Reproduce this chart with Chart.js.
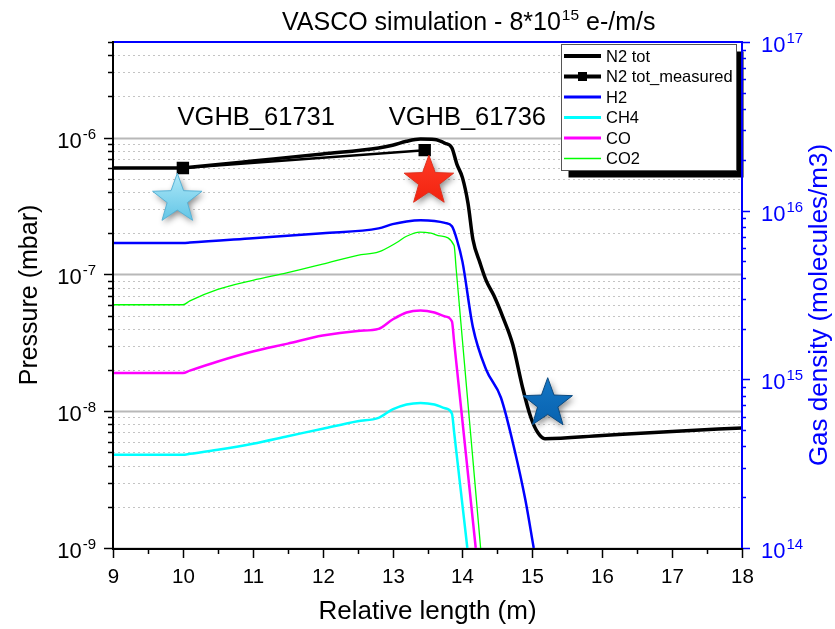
<!DOCTYPE html>
<html>
<head>
<meta charset="utf-8">
<script src="https://cdn.jsdelivr.net/npm/chart.js@4.4.0/dist/chart.umd.min.js"></script>
<style>
  html, body { margin: 0; padding: 0; background: #fff; }
  #wrap { width: 835px; height: 629px; }
</style>
</head>
<body>
<div id="wrap"><canvas id="c" width="835" height="629"></canvas></div>
<script>
const FONT = "'Liberation Sans', Arial, Helvetica, sans-serif";

// ---- series (position along the line in m, pressure in mbar) ----
const n2TotX = [9, 10, 10.1, 11, 12, 12.8, 13.0, 13.2, 13.4, 13.6, 13.75, 13.85, 13.92, 14.0, 14.08, 14.15, 14.25, 14.34, 14.45, 14.58, 14.72, 14.86, 14.98, 15.08, 15.18, 16, 17, 18];
const n2TotY = [6.0e-7, 6.0e-7, 6.07e-7, 6.75e-7, 7.6e-7, 8.4e-7, 8.8e-7, 9.4e-7, 9.75e-7, 9.7e-7, 9.1e-7, 8.4e-7, 6.4e-7, 5.1e-7, 3.3e-7, 1.8e-7, 1.22e-7, 9.0e-8, 7.0e-8, 4.85e-8, 3.07e-8, 1.49e-8, 8.95e-9, 6.95e-9, 6.3e-9, 6.65e-9, 7.1e-9, 7.55e-9];

const n2MeasX = [10, 13.46];
const n2MeasY = [6.0e-7, 8.1e-7];

const h2X = [9, 10, 10.1, 11, 12, 12.8, 13.0, 13.2, 13.4, 13.6, 13.75, 13.85, 13.92, 14.0, 14.15, 14.34, 14.55, 14.75, 14.9, 15.02];
const h2Y = [1.7e-7, 1.7e-7, 1.71e-7, 1.84e-7, 2.0e-7, 2.17e-7, 2.33e-7, 2.44e-7, 2.49e-7, 2.46e-7, 2.38e-7, 2.25e-7, 1.8e-7, 1.24e-7, 4.1e-8, 2.01e-8, 1.26e-8, 5.1e-9, 2.25e-9, 1.0e-9];

const ch4X = [9, 10, 10.1, 10.5, 11, 11.5, 12, 12.5, 12.8, 13.0, 13.2, 13.4, 13.6, 13.75, 13.85, 13.88, 14.07];
const ch4Y = [4.8e-9, 4.8e-9, 4.88e-9, 5.22e-9, 5.78e-9, 6.56e-9, 7.45e-9, 8.45e-9, 8.95e-9, 1.03e-8, 1.12e-8, 1.15e-8, 1.12e-8, 1.05e-8, 9.6e-9, 7.1e-9, 1.0e-9];

const coX = [9, 10, 10.1, 10.5, 11, 11.5, 12, 12.5, 12.8, 13.0, 13.2, 13.4, 13.6, 13.75, 13.85, 13.88, 14.19];
const coY = [1.9e-8, 1.9e-8, 1.98e-8, 2.31e-8, 2.73e-8, 3.12e-8, 3.57e-8, 3.86e-8, 4.0e-8, 4.68e-8, 5.27e-8, 5.45e-8, 5.27e-8, 4.93e-8, 4.53e-8, 3.25e-8, 1.0e-9];

const co2X = [9, 10, 10.1, 10.5, 11, 11.5, 12, 12.5, 12.8, 13.06, 13.2, 13.39, 13.55, 13.68, 13.88, 13.91, 14.26];
const co2Y = [6.0e-8, 6.0e-8, 6.4e-8, 7.76e-8, 9.04e-8, 1.03e-7, 1.19e-7, 1.38e-7, 1.46e-7, 1.71e-7, 1.9e-7, 2.04e-7, 2.0e-7, 1.91e-7, 1.63e-7, 1.1e-7, 1.0e-9];

// ---- axes ----
const xTicks = [9, 10, 11, 12, 13, 14, 15, 16, 17, 18];
const pressureDecades = [-9, -8, -7, -6];
const densityDecades = [14, 15, 16, 17];

// ---- gauge annotations ----
const gaugeNames = ['VGHB_61731', 'VGHB_61736'];
const gaugeNameX = [11.05, 14.07];
const gaugeNameY = [1.24e-6, 1.24e-6];

const starX = [9.92, 13.52, 15.22];
const starY = [3.54e-7, 4.8e-7, 1.135e-8];

const pts = (xs, ys) => xs.map((v, i) => ({ x: v, y: ys[i] }));

function supText(ctx, base, exp, x, y, align, color, size, supSize) {
  ctx.font = size + 'px ' + FONT;
  const wb = ctx.measureText(base).width;
  ctx.font = supSize + 'px ' + FONT;
  const we = ctx.measureText(exp).width;
  const x0 = align === 'right' ? x - wb - we - 1 : x;
  ctx.fillStyle = color;
  ctx.textAlign = 'left';
  ctx.textBaseline = 'alphabetic';
  ctx.font = size + 'px ' + FONT;
  ctx.fillText(base, x0, y);
  ctx.font = supSize + 'px ' + FONT;
  ctx.fillText(exp, x0 + wb + 1, y - size * 0.42);
}

function drawStar(ctx, cx, cy, R, c1, c2, stroke) {
  const r = R * 0.41;
  ctx.beginPath();
  for (let i = 0; i < 10; i++) {
    const a = -Math.PI / 2 + i * Math.PI / 5;
    const rad = i % 2 ? r : R;
    const px = cx + rad * Math.cos(a), py = cy + rad * Math.sin(a);
    if (i === 0) ctx.moveTo(px, py); else ctx.lineTo(px, py);
  }
  ctx.closePath();
  const g = ctx.createLinearGradient(0, cy - R, 0, cy + R);
  g.addColorStop(0, c1);
  g.addColorStop(1, c2);
  ctx.save();
  ctx.shadowColor = 'rgba(0,0,0,0.45)';
  ctx.shadowBlur = 6;
  ctx.shadowOffsetX = 2;
  ctx.shadowOffsetY = 3;
  ctx.fillStyle = g;
  ctx.fill();
  ctx.restore();
  ctx.lineWidth = 1;
  ctx.strokeStyle = stroke;
  ctx.stroke();
}

const framePlugin = {
  id: 'frame',
  beforeDatasetsDraw(chart) {
    const { ctx, chartArea: a, scales: { y } } = chart;
    ctx.save();
    for (const e of pressureDecades) {
      for (let m = 1; m <= 9; m++) {
        const v = m * Math.pow(10, e);
        if (v > y.max * 1.0001) break;
        const py = Math.round(y.getPixelForValue(v)) + 0.5;
        ctx.beginPath();
        if (m === 1) {
          ctx.setLineDash([]);
          ctx.strokeStyle = '#b8b8b8';
          ctx.lineWidth = 2;
        } else {
          ctx.setLineDash([2, 3]);
          ctx.strokeStyle = '#c4c4c4';
          ctx.lineWidth = 1;
        }
        ctx.moveTo(a.left, py);
        ctx.lineTo(a.right, py);
        ctx.stroke();
      }
    }
    ctx.restore();
  },
  afterDatasetsDraw(chart) {
    const { ctx, scales: { x, y } } = chart;
    ctx.save();
    // gauge labels
    ctx.font = '25.5px ' + FONT;
    ctx.fillStyle = '#000';
    ctx.textAlign = 'center';
    ctx.textBaseline = 'alphabetic';
    gaugeNames.forEach((t, i) => {
      ctx.fillText(t, x.getPixelForValue(gaugeNameX[i]), y.getPixelForValue(gaugeNameY[i]));
    });
    // gauge stars
    const starStyle = [
      ['#aee8f8', '#5bc2e4', '#58b2d6'],
      ['#ff3a24', '#f0200e', '#e0301e'],
      ['#1476c4', '#0760ad', '#0b4a80']
    ];
    starX.forEach((sx, i) => {
      const s = starStyle[i];
      drawStar(ctx, x.getPixelForValue(sx), y.getPixelForValue(starY[i]), 26, s[0], s[1], s[2]);
    });
    // legend box with drop shadow
    const L = 561.5, T = 44.5, W = 175, H = 126;
    ctx.fillStyle = '#000';
    ctx.fillRect(L + 7, T + 7, W, H);
    ctx.fillStyle = '#fff';
    ctx.fillRect(L, T, W, H);
    ctx.strokeStyle = '#555';
    ctx.lineWidth = 1;
    ctx.strokeRect(L, T, W, H);
    chart.data.datasets.forEach((ds, i) => {
      const cy = 56 + i * 20.5;
      ctx.strokeStyle = ds.borderColor;
      ctx.lineWidth = ds.legendWidth;
      ctx.beginPath();
      ctx.moveTo(564, cy);
      ctx.lineTo(601, cy);
      ctx.stroke();
      if (ds.pointRadius > 0) {
        ctx.fillStyle = ds.borderColor;
        ctx.fillRect(578, cy - 4.5, 9, 9);
      }
      ctx.fillStyle = '#000';
      ctx.font = '16.5px ' + FONT;
      ctx.textAlign = 'left';
      ctx.textBaseline = 'middle';
      ctx.fillText(ds.label, 606, cy + 1);
    });
    ctx.restore();
  },
  afterDraw(chart) {
    const { ctx, chartArea: a, scales: { x, y, y2 } } = chart;
    ctx.save();
    ctx.setLineDash([]);
    // axis lines
    ctx.lineWidth = 2;
    ctx.strokeStyle = '#0000ff';
    ctx.beginPath(); ctx.moveTo(a.left, a.top); ctx.lineTo(a.right + 1, a.top); ctx.stroke();
    ctx.beginPath(); ctx.moveTo(a.right, a.top); ctx.lineTo(a.right, a.bottom); ctx.stroke();
    ctx.strokeStyle = '#000';
    ctx.beginPath(); ctx.moveTo(a.left, a.top - 1); ctx.lineTo(a.left, a.bottom + 1); ctx.stroke();
    ctx.beginPath(); ctx.moveTo(a.left - 1, a.bottom + 1); ctx.lineTo(a.right, a.bottom + 1); ctx.stroke();

    // left ticks + labels
    ctx.lineWidth = 1.5;
    for (const e of pressureDecades) {
      for (let m = 1; m <= 9; m++) {
        const v = m * Math.pow(10, e);
        if (v > y.max * 1.0001) break;
        const py = Math.round(y.getPixelForValue(v)) + 0.5;
        const len = m === 1 ? 9 : 5;
        ctx.strokeStyle = '#000';
        ctx.beginPath(); ctx.moveTo(a.left - len, py); ctx.lineTo(a.left, py); ctx.stroke();
        if (m === 1) supText(ctx, '10', '-' + Math.abs(e), 96, py + 9.5, 'right', '#000', 22, 15);
      }
    }
    // right ticks + labels
    for (const e of densityDecades) {
      for (let m = 1; m <= 9; m++) {
        const v = m * Math.pow(10, e);
        if (v > y2.max * 1.0001) break;
        const py = Math.round(y2.getPixelForValue(v)) + 0.5;
        const len = m === 1 ? 8 : 4;
        ctx.strokeStyle = '#0000ff';
        ctx.beginPath(); ctx.moveTo(a.right, py); ctx.lineTo(a.right + len, py); ctx.stroke();
        if (m === 1) supText(ctx, '10', String(e), 761, py + 9.5, 'left', '#0000ff', 22, 15);
      }
    }
    // bottom ticks + labels
    ctx.strokeStyle = '#000';
    for (let k = 0; k < xTicks.length; k++) {
      const v = xTicks[k];
      const px = Math.round(x.getPixelForValue(v)) + 0.5;
      ctx.beginPath(); ctx.moveTo(px, a.bottom); ctx.lineTo(px, a.bottom + 10); ctx.stroke();
      if (k < xTicks.length - 1) {
        const pm = Math.round(x.getPixelForValue(v + 0.5)) + 0.5;
        ctx.beginPath(); ctx.moveTo(pm, a.bottom); ctx.lineTo(pm, a.bottom + 6); ctx.stroke();
      }
      ctx.fillStyle = '#000';
      ctx.font = '20.5px ' + FONT;
      ctx.textAlign = 'center';
      ctx.textBaseline = 'alphabetic';
      ctx.fillText(String(v), px, 583);
    }
    // right axis title, reading upwards
    ctx.save();
    ctx.translate(820, 305);
    ctx.rotate(-Math.PI / 2);
    ctx.fillStyle = '#0000ff';
    ctx.font = '26px ' + FONT;
    ctx.textAlign = 'center';
    ctx.textBaseline = 'middle';
    ctx.fillText('Gas density (molecules/m3)', 0, 0);
    ctx.restore();
    // chart title
    ctx.fillStyle = '#000';
    const tx = 282, ty = 30;
    ctx.font = '25px ' + FONT;
    ctx.textAlign = 'left';
    ctx.textBaseline = 'alphabetic';
    const p1 = 'VASCO simulation - 8*10';
    ctx.fillText(p1, tx, ty);
    let w = ctx.measureText(p1).width;
    ctx.font = '15.5px ' + FONT;
    ctx.fillText('15', tx + w + 1, ty - 10.5);
    w += ctx.measureText('15').width + 1;
    ctx.font = '25px ' + FONT;
    ctx.fillText(' e-/m/s', tx + w, ty);
    ctx.restore();
  }
};

const common = { fill: false, pointRadius: 0, pointHoverRadius: 0, cubicInterpolationMode: 'monotone' };

new Chart(document.getElementById('c'), {
  type: 'line',
  data: {
    datasets: [
      { ...common, label: 'N2 tot', data: pts(n2TotX, n2TotY), borderColor: '#000000', borderWidth: 3.5, legendWidth: 4 },
      { ...common, label: 'N2 tot_measured', data: pts(n2MeasX, n2MeasY), borderColor: '#000000', backgroundColor: '#000000', borderWidth: 2.5, legendWidth: 4, pointRadius: 7, pointStyle: 'rect', cubicInterpolationMode: 'default' },
      { ...common, label: 'H2', data: pts(h2X, h2Y), borderColor: '#0000ff', borderWidth: 2.5, legendWidth: 3 },
      { ...common, label: 'CH4', data: pts(ch4X, ch4Y), borderColor: '#00ffff', borderWidth: 2.5, legendWidth: 3 },
      { ...common, label: 'CO', data: pts(coX, coY), borderColor: '#ff00ff', borderWidth: 2.5, legendWidth: 3 },
      { ...common, label: 'CO2', data: pts(co2X, co2Y), borderColor: '#00ff00', borderWidth: 1.3, legendWidth: 1.5 }
    ]
  },
  options: {
    responsive: false,
    animation: false,
    devicePixelRatio: 1,
    layout: { padding: { top: 42, left: 0, right: 0, bottom: 0 } },
    plugins: { legend: { display: false }, title: { display: false }, tooltip: { enabled: false } },
    scales: {
      x: {
        type: 'linear', position: 'bottom', min: 9, max: 18,
        grid: { display: false }, border: { display: false }, ticks: { display: false },
        title: { display: true, text: 'Relative length (m)', color: '#000', font: { family: FONT, size: 26 }, padding: { top: 0, bottom: 2 } },
        afterFit: s => { s.height = 81; }
      },
      y: {
        type: 'logarithmic', position: 'left', min: 1e-9, max: 5e-6,
        grid: { display: false }, border: { display: false }, ticks: { display: false },
        title: { display: true, text: 'Pressure (mbar)', color: '#000', font: { family: FONT, size: 25 }, padding: { top: 15, bottom: 0 } },
        afterFit: s => { s.width = 113; }
      },
      y2: {
        type: 'logarithmic', position: 'right', min: 1e14, max: 1e17, display: true,
        grid: { display: false }, border: { display: false }, ticks: { display: false },
        title: { display: false },
        afterFit: s => { s.width = 93; }
      }
    }
  },
  plugins: [framePlugin]
});
</script>
</body>
</html>
